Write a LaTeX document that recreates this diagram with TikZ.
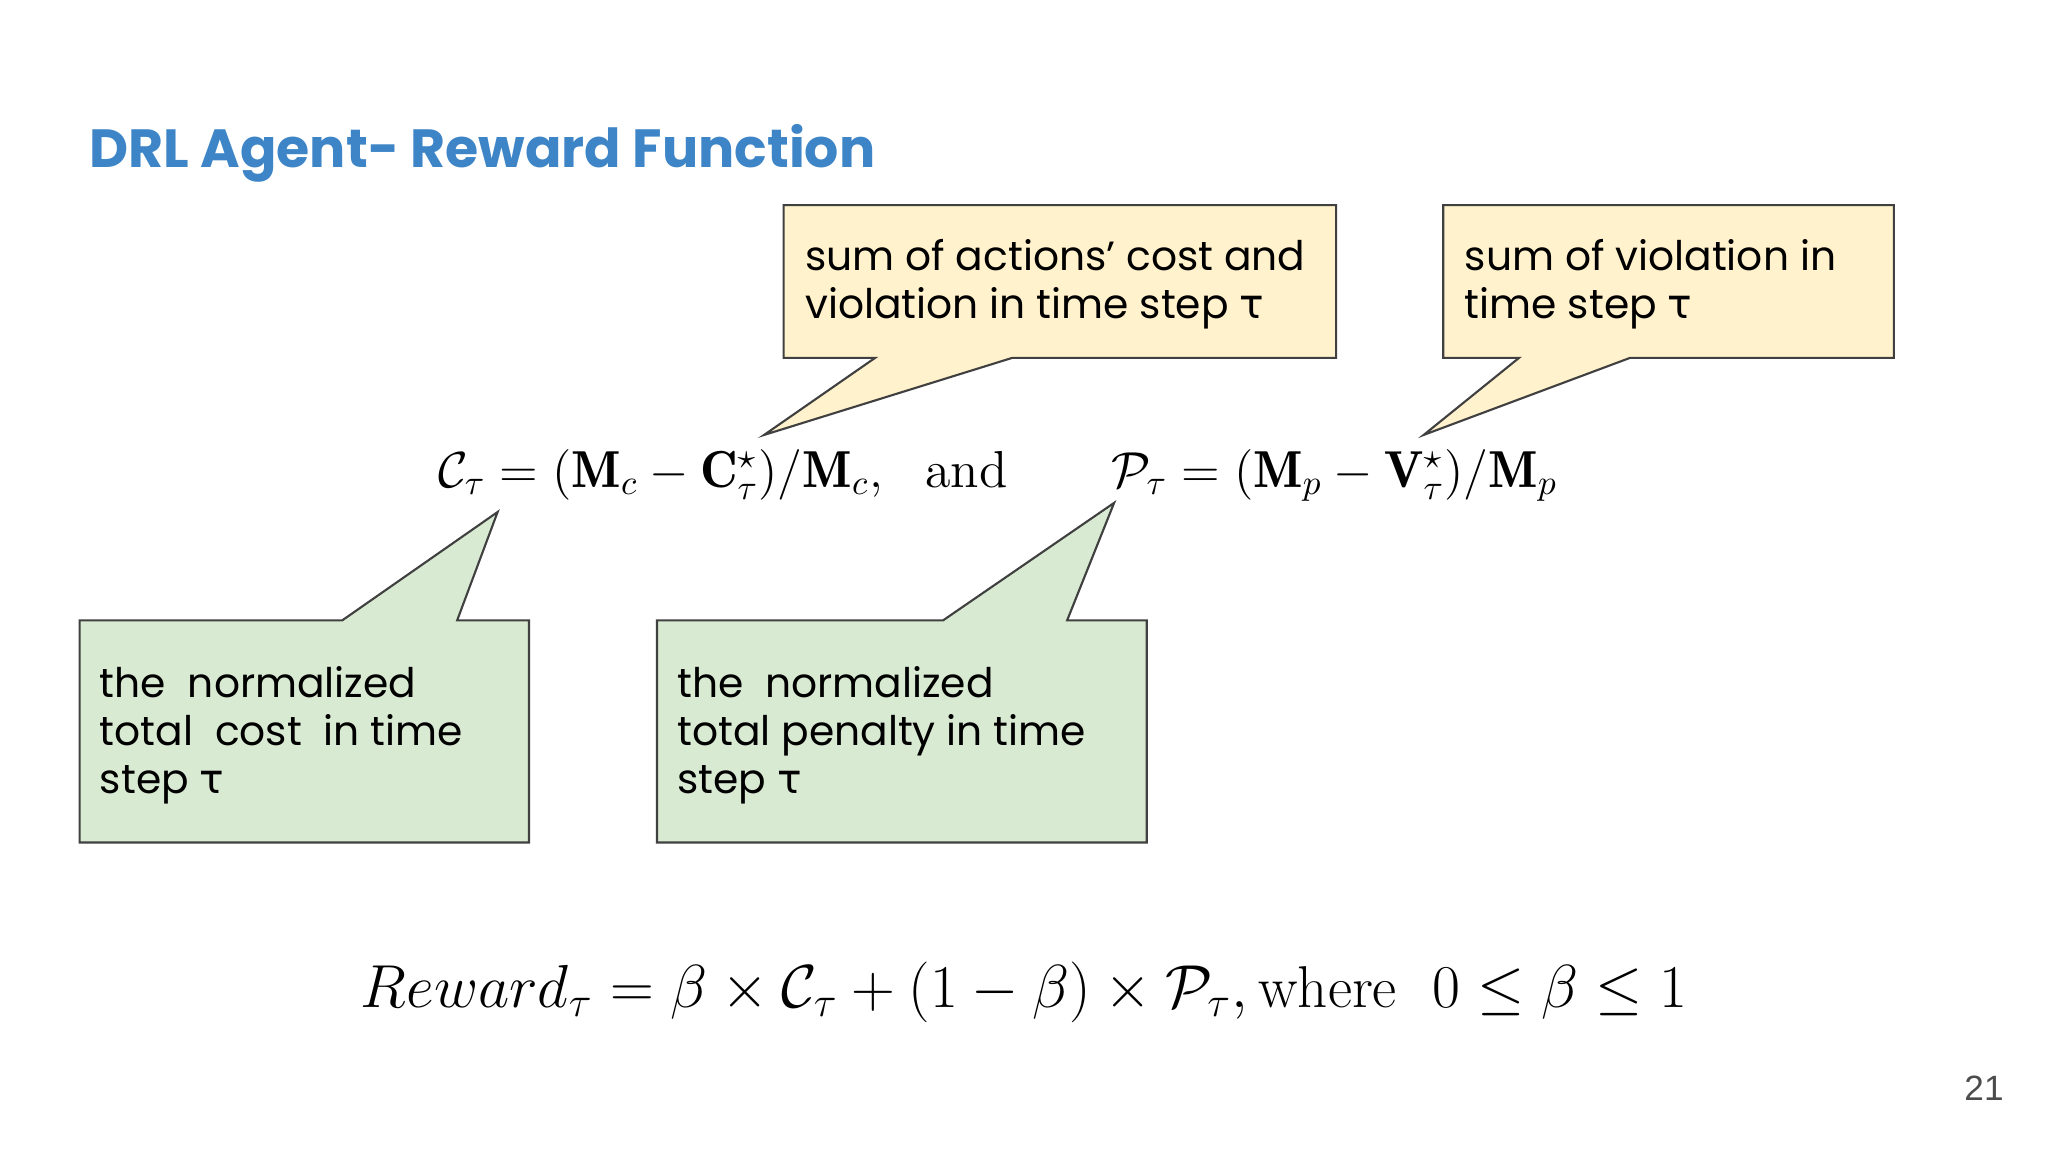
\documentclass[tikz,border=0pt]{standalone}
\usepackage{amsmath}
\usepackage{amssymb}
\usepackage{fontspec}
\newfontfamily\titlefont{Poppins}
\newfontfamily\callfont{Poppins}
\newfontfamily\taufont{DejaVu Sans}
\newfontfamily\numfont{Liberation Sans}
\newcommand{\ttau}{{\taufont τ}}
\definecolor{titleblue}{RGB}{61,133,198}
\definecolor{calloutyellow}{RGB}{255,242,204}
\definecolor{calloutgreen}{RGB}{217,234,211}
\begin{document}
\begin{tikzpicture}[x=0.01306cm, y=-0.01306cm,
  callout/.style={draw=black!75, line width=0.6pt},
  calltext/.style={anchor=north west, inner sep=0pt, align=left, font=\callfont\fontsize{11.6}{13.6}\selectfont},
  eqn/.style={inner sep=0pt}]
  \useasboundingbox (0,0) rectangle (1568,882);
  \node[anchor=base west, inner sep=0pt, text=titleblue, font=\titlefont\bfseries\fontsize{15.3}{18}\selectfont] (title) at (68,128) {DRL Agent- Reward Function};
  % yellow callouts
  \draw[callout, fill=calloutyellow] (600,157) -- (1023,157) -- (1023,274) -- (775,274) -- (585,333) -- (670,274) -- (600,274) -- cycle;
  \node[calltext] (sumcost) at (616,183) {sum of actions’ cost and\\violation in time step \ttau};
  \draw[callout, fill=calloutyellow] (1105,157) -- (1450,157) -- (1450,274) -- (1248,274) -- (1090,333) -- (1163,274) -- (1105,274) -- cycle;
  \node[calltext] (sumviol) at (1121,183) {sum of violation in\\time step \ttau};
  % green callouts
  \draw[callout, fill=calloutgreen] (61,475) -- (262,475) -- (381,392) -- (350,475) -- (405,475) -- (405,645) -- (61,645) -- cycle;
  \node[calltext] (normcost) at (76,510) {the\ \ normalized\\total\ \ cost\ \ in time\\step \ttau};
  \draw[callout, fill=calloutgreen] (503,475) -- (722,475) -- (853,385) -- (817,475) -- (878,475) -- (878,645) -- (503,645) -- cycle;
  \node[calltext] (normpen) at (518,510) {the\ \ normalized\\total penalty in time\\step \ttau};
  % equations
  \node[eqn, font=\fontsize{14.8}{18}\selectfont] (eqtop) at (764,364) {$\mathcal{C}_\tau=(\mathbf{M}_c-\mathbf{C}^\star_\tau)/\mathbf{M}_c,\ \ \text{and}\qquad \mathcal{P}_\tau=(\mathbf{M}_p-\mathbf{V}^\star_\tau)/\mathbf{M}_p$};
  \node[eqn, font=\fontsize{16.8}{20}\selectfont] (eqreward) at (784,760) {$Reward_\tau=\beta\times\mathcal{C}_\tau+(1-\beta)\times\mathcal{P}_\tau,\text{where}\ \ 0\le\beta\le1$};
  \node[inner sep=0pt, text=black!70, font=\numfont\fontsize{10}{12}\selectfont] (pagenum) at (1519,833) {21};
\end{tikzpicture}
\end{document}
